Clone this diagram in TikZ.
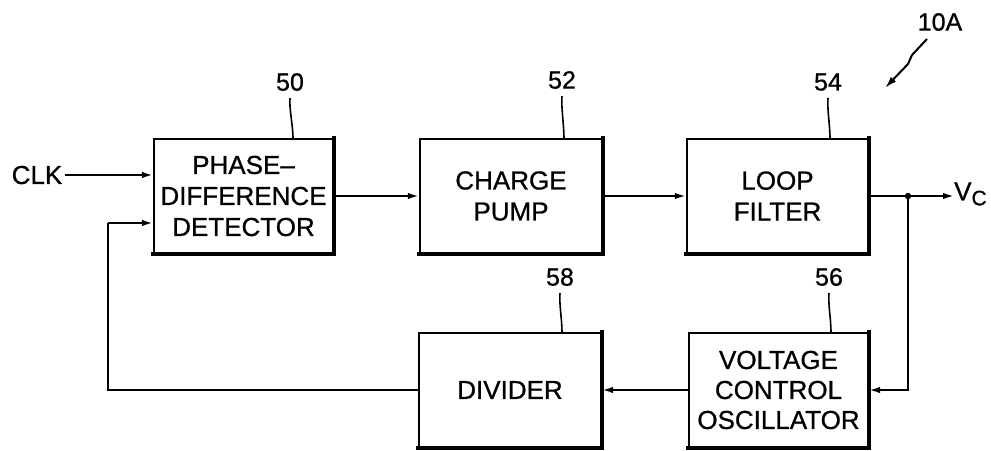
\documentclass[tikz,border=0pt]{standalone}
\usepackage{fontspec}
\setmainfont{Liberation Sans}[FakeBold=0.8]
\usetikzlibrary{arrows.meta}
\begin{document}
\begin{tikzpicture}[x=1pt,y=-1pt,
  blk/.style={draw, line width=2.2pt, inner sep=0pt, minimum height=114pt,
    align=center, font=\fontsize{26}{31}\selectfont},
  heavy/.style={line width=4.5pt, line cap=rect},
  conn/.style={line width=2pt, -{Latex[length=11pt,width=6.5pt]}},
  wire/.style={line width=2pt},
  lbl/.style={font=\fontsize{25}{25}\selectfont, inner sep=0pt},
  lead/.style={line width=1.6pt}]
\useasboundingbox (0,0) rectangle (991,450);

% blocks
\node[blk, minimum width=179pt] (pdd) at (243.5,196) {PHASE–\\DIFFERENCE\\DETECTOR};
\node[blk, minimum width=182pt] (cp)  at (511,196) {CHARGE\\PUMP};
\node[blk, minimum width=181pt] (lf)  at (777.5,196) {LOOP\\FILTER};
\node[blk, minimum width=182pt] (div) at (510,390) {DIVIDER};
\node[blk, minimum width=179pt, font=\fontsize{26}{30}\selectfont] (vco) at (778.5,390) {VOLTAGE\\CONTROL\\OSCILLATOR};

% heavy right/bottom edges
\foreach \b in {pdd,cp,lf,div,vco}{
  \draw[heavy] (\b.north east) -- (\b.south east) -- (\b.south west);
}

% reference numerals
\node[lbl] (l50) at (290,82) {50};
\node[lbl] (l52) at (562,80) {52};
\node[lbl] (l54) at (828,82) {54};
\node[lbl] (l58) at (560,277) {58};
\node[lbl] (l56) at (829,277) {56};
\node[lbl] (l10) at (940,22) {10A};

\draw[lead] ([yshift=-7pt]l50.south) .. controls +(-1,10) and +(0,-12) .. (pdd.north -| 293,0);
\draw[lead] ([yshift=-7pt]l52.south) .. controls +(-1,10) and +(0,-12) .. (cp.north -| 564,0);
\draw[lead] ([yshift=-7pt]l54.south) .. controls +(-1,10) and +(0,-12) .. (lf.north -| 830,0);
\draw[lead] ([yshift=-7pt]l58.south) .. controls +(-1,10) and +(0,-12) .. (div.north -| 562,0);
\draw[lead] ([yshift=-7pt]l56.south) .. controls +(-1,10) and +(0,-12) .. (vco.north -| 831,0);

\coordinate (a10s) at (927,39);
\coordinate (a10e) at (885,88);
\draw[line width=2pt, -{Latex[length=12pt,width=7pt]}] (a10s) -- (912,55) -- (908,64) -- (a10e);

% inputs / outputs
\node[font=\fontsize{26}{26}\selectfont, inner sep=0pt] (clk) at (37,175) {CLK};
\node[font=\fontsize{26}{26}\selectfont, inner sep=0pt, anchor=west] (vc) at (954,194)
  {V\raisebox{-5pt}{\fontsize{21}{21}\selectfont C}};

\draw[conn] ([xshift=3pt]clk.east) -- (pdd.west |- clk);
\draw[conn] (pdd.east) -- (cp.west);
\draw[conn] (cp.east) -- (lf.west);

\coordinate (j) at (908,196);
\draw[conn] (lf.east) -- (vc.west |- j);
\fill (j) circle (3.2pt);
\draw[conn] (j) |- (vco.east);
\draw[conn] (vco.west) -- (div.east);

\coordinate (fb) at (108,223);
\draw[wire] (div.west) -| (fb);
\draw[conn] (fb) -- (fb -| pdd.west);
\end{tikzpicture}
\end{document}
